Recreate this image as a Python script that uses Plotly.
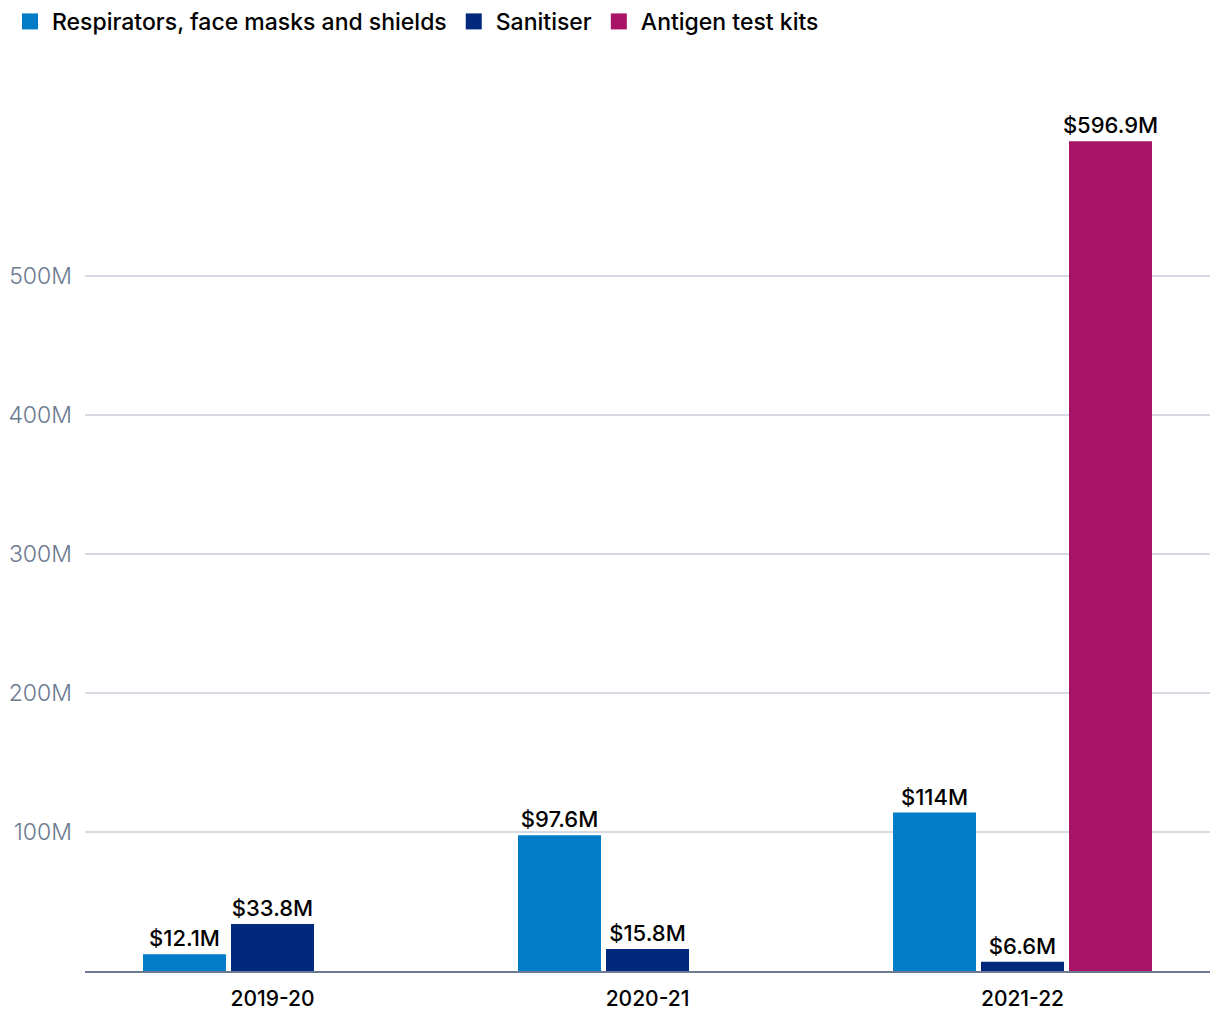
import plotly.graph_objects as go

years = ["2019-20", "2020-21", "2021-22"]
respirators = [12.1, 97.6, 114]
sanitiser = [33.8, 15.8, 6.6]
antigen = [None, None, 596.9]
labels_resp = ["$12.1M", "$97.6M", "$114M"]
labels_san = ["$33.8M", "$15.8M", "$6.6M"]
labels_ant = ["", "", "$596.9M"]
series_names = ["Respirators, face masks and shields", "Sanitiser", "Antigen test kits"]
series_colors = ["#007CC8", "#00297E", "#A81267"]
tick_vals = [100, 200, 300, 400, 500]
tick_text = ["100M", "200M", "300M", "400M", "500M"]

FONT = "Inter"
label_font = dict(family=FONT, size=22, color="#000000", weight=500)

fig = go.Figure()
for name, vals, labs, col in zip(series_names, [respirators, sanitiser, antigen],
                                 [labels_resp, labels_san, labels_ant], series_colors):
    fig.add_bar(name=name, x=years, y=vals, text=labs, textposition="outside",
                marker=dict(color=col, line=dict(width=0)), textfont=label_font,
                cliponaxis=False, constraintext="none", showlegend=False,
                legendgroup=name)
    # legend entry with a larger square swatch
    fig.add_scatter(name=name, x=[None], y=[None], mode="markers",
                    marker=dict(symbol="square", size=16, color=col, line=dict(width=0)),
                    legendgroup=name, showlegend=True)

fig.update_layout(
    width=1204, height=1004,
    margin=dict(l=77, r=2, t=52, b=41, autoexpand=False),
    paper_bgcolor="white", plot_bgcolor="white",
    barmode="group", bargap=0.296, bargroupgap=0.057,
    font=dict(family=FONT),
    showlegend=True,
    legend=dict(orientation="h", xref="container", x=-0.009, xanchor="left",
                yref="paper", y=1.0659, yanchor="top",
                font=dict(family=FONT, size=23, color="#000000", weight=500),
                traceorder="grouped", tracegroupgap=35, itemsizing="trace",
                itemclick=False, itemwidth=34),
    xaxis=dict(showgrid=False, showline=True, linecolor="#6B7A90", linewidth=2,
               ticks="", automargin=False, ticklabelstandoff=8,
               tickfont=dict(family=FONT, size=21, color="#000000", weight=500)),
    yaxis=dict(range=[0, 655.4], tickvals=tick_vals, ticktext=tick_text,
               showgrid=True, gridcolor="#D5DAE3", gridwidth=1.5, zeroline=False,
               showline=False, ticks="", ticklabelstandoff=12, automargin=False,
               tickfont=dict(family=FONT, size=23, color="#6B7A90", weight=300)),
)

fig.write_html("out.html")
